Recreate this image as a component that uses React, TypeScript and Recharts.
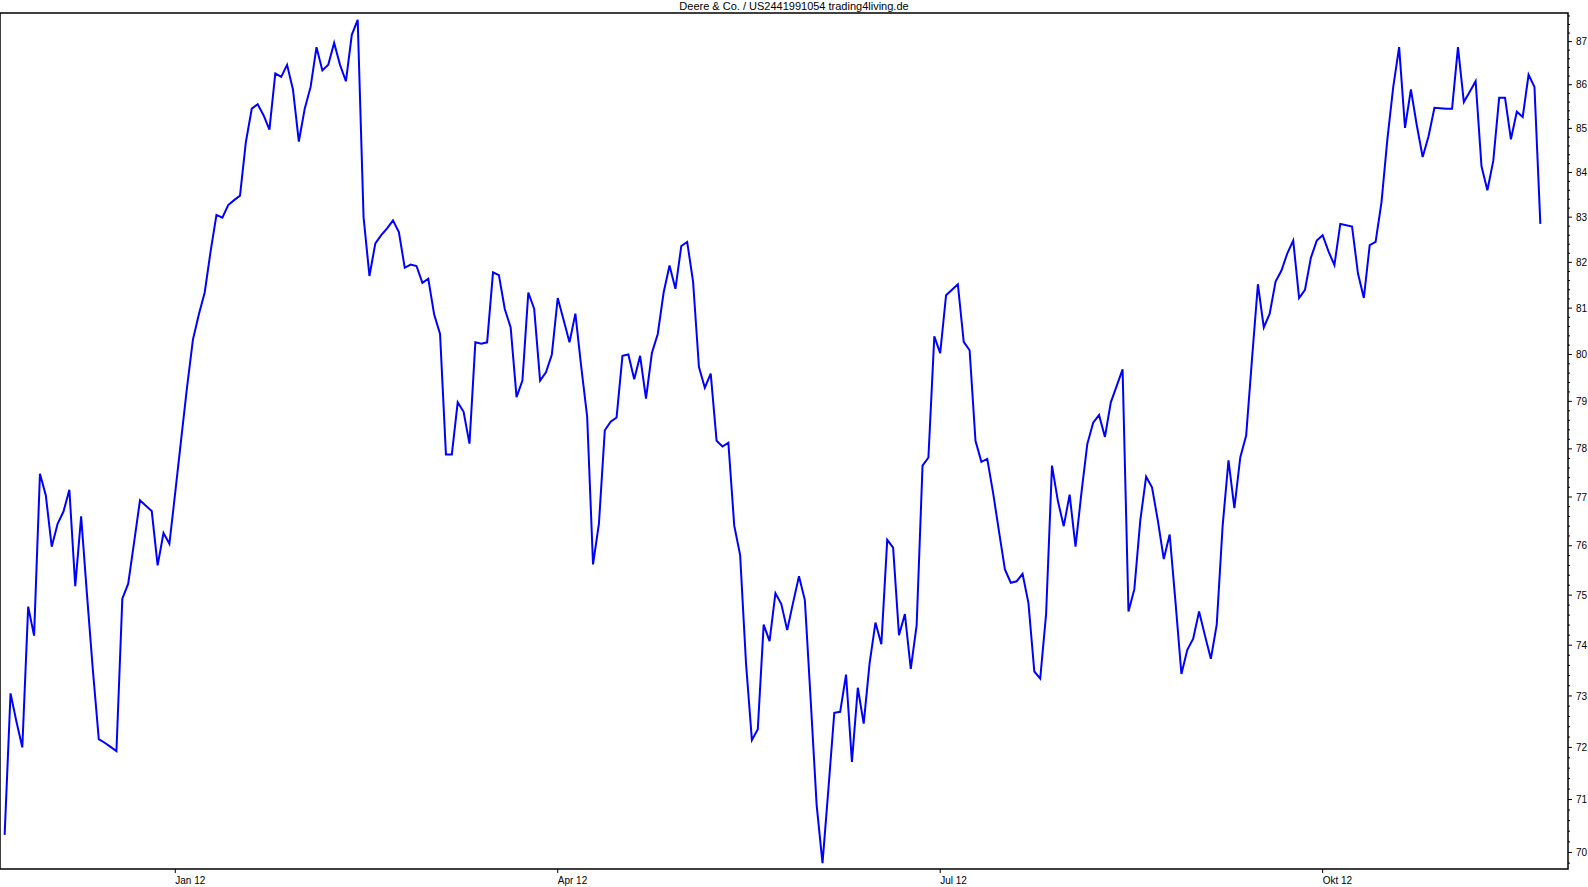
import React from 'react';
import { LineChart, Line, XAxis, YAxis, ReferenceArea } from 'recharts';

// Daily closes (weekdays), Nov 22 2011 .. Nov 21 2012
const closesLate2011 = [
  70.33, 73.05, 72.5, 72.0, 74.77, 74.19, 77.48, 77.03, 75.98, 76.45,
  76.7, 77.15, 75.18, 76.6, 75.0, 73.5, 72.16, 72.09, 72.01, 71.93,
  74.93, 75.23, 76.07, 76.93, 76.82, 76.71, 75.6, 76.26, 76.04,
];
const closesQ1 = [
  77.1, 78.2, 79.3, 80.32, 80.86, 81.34, 82.24, 83.05, 82.99, 83.27,
  83.38, 83.48, 84.69, 85.45, 85.55, 85.3, 84.97, 86.26, 86.18, 86.46,
  85.89, 84.7, 85.45, 85.95, 86.87, 86.33, 86.46, 86.97, 86.46, 86.08,
  87.16, 87.51, 83.0, 81.7, 82.42, 82.6, 82.75, 82.93, 82.67, 81.88,
  81.95, 81.92, 81.55, 81.64, 80.86, 80.44, 77.88, 77.88, 78.98, 78.78,
  78.11, 80.26, 80.23, 80.26, 81.78, 81.72, 80.98, 80.58, 79.09, 79.44,
  81.34, 80.98, 79.44, 79.62, 80.0,
];
const closesQ2 = [
  81.22, 80.74, 80.26, 80.88, 79.73, 78.68, 75.62, 76.45, 78.39, 78.57,
  78.66, 79.97, 80.0, 79.47, 79.97, 79.06, 80.03, 80.44, 81.34, 81.93,
  81.42, 82.36, 82.45, 81.58, 79.73, 79.29, 79.59, 78.17, 78.05, 78.13,
  76.41, 75.81, 73.64, 72.14, 72.35, 74.41, 74.08, 75.04, 74.82, 74.3,
  74.85, 75.38, 74.9, 72.9, 70.9, 69.8, 71.2, 72.67, 72.69, 73.42,
  71.72, 73.16, 72.46, 73.64, 74.45, 74.02, 76.12, 75.96, 74.2, 74.62,
  73.53, 74.4, 77.65, 77.82, 80.39,
];
const closesQ3 = [
  80.03, 81.28, 81.4, 81.52, 80.27, 80.09, 78.17, 77.73, 77.79, 77.08,
  76.29, 75.52, 75.25, 75.28, 75.43, 74.84, 73.48, 73.34, 74.62, 77.65,
  76.92, 76.4, 77.05, 75.98, 77.08, 78.1, 78.55, 78.71, 78.25, 78.98,
  79.33, 79.68, 74.67, 75.12, 76.51, 77.42, 77.2, 76.51, 75.73, 76.23,
  74.85, 73.43, 73.91, 74.13, 74.67, 74.19, 73.73, 74.41, 76.4, 77.76,
  76.77, 77.82, 78.28, 79.91, 81.52, 80.58, 80.88, 81.58, 81.82, 82.2,
  82.48, 81.22, 81.4, 82.1, 82.48,
];
const closesQ4 = [
  82.6, 82.24, 81.94, 82.85, 82.82, 82.79, 81.76, 81.22, 82.38, 82.45,
  83.33, 84.75, 85.95, 86.87, 85.01, 85.89, 85.07, 84.35, 84.82, 85.47,
  85.46, 85.45, 85.45, 86.87, 85.6, 85.84, 86.08, 84.14, 83.6, 84.26,
  85.7, 85.7, 84.75, 85.38, 85.26, 86.23, 85.95, 82.85,
];

const monthTickIndex = [29, 94, 159, 224];
const monthTickLabels = ['Jan 12', 'Apr 12', 'Jul 12', 'Okt 12'];
const yMajorTicks = [70, 71, 72, 73, 74, 75, 76, 77, 78, 79, 80, 81, 82, 83, 84, 85, 86, 87];

const TITLE = 'Deere & Co. / US2441991054 trading4living.de';

const closes = [...closesLate2011, ...closesQ1, ...closesQ2, ...closesQ3, ...closesQ4];
const data = closes.map((c, i) => ({ i, close: c }));

const xDomain: [number, number] = [-0.79, 265.7];
const yDomain: [number, number] = [69.69, 87.67];

// minor ticks every 0.2 between the labelled integers
const yTicks: number[] = [];
for (let k = Math.ceil(yDomain[0] * 5); k <= Math.floor(yDomain[1] * 5); k++) {
  yTicks.push(k / 5);
}

const FONT = '"Liberation Sans", Arial, Helvetica, sans-serif';

const YTick = (props: any) => {
  const { x, y, payload } = props;
  const v = payload.value as number;
  const r = Math.round(v);
  const major = Math.abs(v - r) < 1e-6 && yMajorTicks.includes(r);
  return (
    <g>
      <line x1={x} y1={y} x2={x + (major ? 4 : 2)} y2={y} stroke="#000" strokeWidth={1} />
      {major && (
        <text x={x + 8} y={y} dy={3.6} fontSize={10} fontFamily={FONT} fill="#000" textAnchor="start">
          {r}
        </text>
      )}
    </g>
  );
};

const XTick = (props: any) => {
  const { x, y, payload } = props;
  const idx = monthTickIndex.indexOf(payload.value);
  return (
    <g>
      <line x1={x} y1={y} x2={x} y2={y + 4} stroke="#000" strokeWidth={1} />
      <text x={x} y={y + 15} fontSize={10} fontFamily={FONT} fill="#000" textAnchor="start">
        {idx >= 0 ? monthTickLabels[idx] : ''}
      </text>
    </g>
  );
};

export default function App() {
  return (
    <div style={{ position: 'absolute', left: 0, top: 0, width: 1588, height: 887, background: '#fff' }}>
      <div
        style={{
          position: 'absolute',
          left: 0,
          top: 0,
          width: 1588,
          textAlign: 'center',
          fontFamily: FONT,
          fontSize: 11,
          lineHeight: '12px',
          color: '#000',
        }}
      >
        {TITLE}
      </div>
      <LineChart width={1588} height={887} data={data} margin={{ top: 13, right: 0, bottom: 0, left: 0 }}>
        <XAxis
          dataKey="i"
          type="number"
          domain={xDomain}
          allowDataOverflow
          ticks={monthTickIndex}
          interval={0}
          height={18}
          axisLine={false}
          tickLine={false}
          tickSize={0}
          tickMargin={0}
          tick={<XTick />}
        />
        <YAxis
          orientation="right"
          type="number"
          scale="log"
          domain={yDomain}
          allowDataOverflow
          ticks={yTicks}
          interval={0}
          width={20}
          axisLine={false}
          tickLine={false}
          tickSize={0}
          tickMargin={0}
          tick={<YTick />}
        />
        <ReferenceArea
          x1={xDomain[0]}
          x2={xDomain[1]}
          y1={yDomain[0]}
          y2={yDomain[1]}
          fill="none"
          fillOpacity={0}
          stroke="#000"
          strokeWidth={1.5}
          ifOverflow="visible"
        />
        <Line
          type="linear"
          dataKey="close"
          stroke="#0000ff"
          strokeWidth={2}
          dot={false}
          activeDot={false}
          isAnimationActive={false}
        />
      </LineChart>
    </div>
  );
}
